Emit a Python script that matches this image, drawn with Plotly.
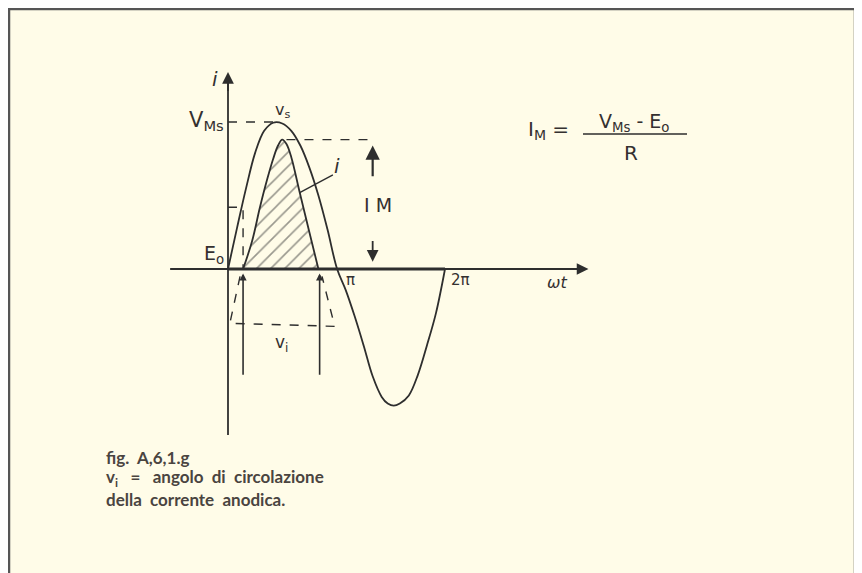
import plotly.graph_objects as go

# ---- values (angle ωt in degrees, amplitude relative to V_Ms) ----
VS_DEG = [0, 15, 30, 45, 60, 75, 90, 105, 120, 135, 150, 165, 181,
          195, 210, 225, 240, 255, 265, 275, 285, 300, 315, 330, 345, 360]
VS_VAL = [0, 0.28, 0.55, 0.79, 0.94, 0.995, 0.99, 0.94, 0.84, 0.69, 0.50, 0.27, 0,
          -0.14, -0.32, -0.52, -0.73, -0.87, -0.915, -0.93, -0.915, -0.86, -0.72, -0.52, -0.30, 0]

I_DEG = [25, 40, 53, 65, 75, 83, 90, 97, 105, 119, 135, 150]
I_VAL = [0, 0.19, 0.42, 0.61, 0.75, 0.84, 0.88, 0.85, 0.76, 0.52, 0.25, 0]

E0_LEVEL = 0.42
E0_DEG = 25
IM_LEVEL = 0.88
VMS_LEVEL = 1.0
VMS_DEG = 83

# angle of conduction (v_i) projection below the axis
VI_DEG = [20, 3, 177, 156]
VI_VAL = [-0.05, -0.37, -0.39, -0.05]
VI_ARROWS = [25, 152]

PI_TICKS = ["π", "2π"]
PI_POS = [204, 385]

BG = "#fffce8"
INK = "#2e2e2e"
TXT = "#343030"
FONT = "DejaVu Sans"
CAPFONT = "Lato"

W, H = 862, 573
OFF = 8  # page margin around the plot div

fig = go.Figure()

# hatched anode current pulse
fig.add_trace(go.Scatter(
    x=I_DEG, y=I_VAL, mode="lines", fill="toself",
    line=dict(color=INK, width=1.8, shape="spline"),
    fillpattern=dict(shape="/", size=10, solidity=0.16, fgcolor="#333", bgcolor=BG),
    hoverinfo="skip"))

# grid voltage v_s
fig.add_trace(go.Scatter(x=VS_DEG, y=VS_VAL, mode="lines",
                         line=dict(color=INK, width=1.8, shape="spline", smoothing=1.0),
                         hoverinfo="skip"))

dash = dict(color=INK, width=1.4, dash="dash")
fig.add_trace(go.Scatter(x=[0, VMS_DEG], y=[VMS_LEVEL, VMS_LEVEL], mode="lines", line=dash))
fig.add_trace(go.Scatter(x=[97, 244], y=[IM_LEVEL, IM_LEVEL], mode="lines", line=dash))
fig.add_trace(go.Scatter(x=[0, E0_DEG, E0_DEG], y=[E0_LEVEL, E0_LEVEL, 0], mode="lines", line=dash))
fig.add_trace(go.Scatter(x=VI_DEG, y=VI_VAL, mode="lines", line=dash))

# axes
fig.add_trace(go.Scatter(x=[-96, 590], y=[0, 0], mode="lines", line=dict(color=INK, width=2)))
fig.add_trace(go.Scatter(x=[0, 360], y=[0, 0], mode="lines", line=dict(color=INK, width=3)))
fig.add_trace(go.Scatter(x=[0, 0], y=[-1.13, 1.30], mode="lines", line=dict(color=INK, width=1.8)))

arrow = dict(showarrow=True, text="", xref="x", yref="y", axref="x", ayref="y",
             arrowhead=2, arrowsize=1.3, arrowwidth=1.8, arrowcolor=INK)
fig.add_annotation(x=0, y=1.34, ax=0, ay=1.2, **arrow)
fig.add_annotation(x=598, y=0, ax=570, ay=0, **arrow)
for d in VI_ARROWS:
    fig.add_annotation(x=d, y=-0.03, ax=d, ay=-0.73,
                       **{**arrow, "arrowsize": 0.9, "arrowwidth": 1.6})
fig.add_annotation(x=240, y=0.84, ax=240, ay=0.62, **{**arrow, "arrowwidth": 2.2})
fig.add_annotation(x=240, y=0.05, ax=240, ay=0.20, **arrow)
# leader for the i label
fig.add_trace(go.Scatter(x=[174, 119], y=[0.64, 0.52], mode="lines", line=dict(color=INK, width=1.4)))


def lab(x, y, text, size=17, **kw):
    fig.add_annotation(x=x, y=y, text=text, showarrow=False, xref="x", yref="y",
                       font=dict(family=FONT, size=size, color=TXT), **kw)


lab(-22, 1.29, "<i>i</i>", 20)
lab(-4, 1.01, "V<sub>Ms</sub>", 21, xanchor="right")
lab(90, 1.08, "v<sub>s</sub>", 16)
lab(-4, 0.10, "E<sub>o</sub>", 19, xanchor="right")
for t, p in zip(PI_TICKS, PI_POS):
    lab(p, -0.075, t, 15)
lab(546, -0.095, "<i>ωt</i>", 16)
lab(180, 0.70, "<i>i</i>", 20)
lab(249, 0.435, "I M", 19)
lab(88, -0.51, "v<sub>i</sub>", 17)


def note(px, py, text, size, family=FONT, color=TXT, xanchor="center"):
    # px, py are screen pixels; shift by the page margin
    fig.add_annotation(x=(px - OFF) / W, y=1 - (py - OFF) / H, xref="paper", yref="paper",
                       text=text, showarrow=False, xanchor=xanchor, yanchor="middle",
                       font=dict(family=family, size=size, color=color))


# formula
note(526, 130, "I<sub>M</sub> =", 20, xanchor="left")
note(634, 123, "V<sub>Ms</sub> - E<sub>o</sub>", 19)
note(631, 153, "R", 20)
fig.add_shape(type="line", xref="paper", yref="paper", x0=(583 - OFF) / W, x1=(687 - OFF) / W,
              y0=1 - (134 - OFF) / H, y1=1 - (134 - OFF) / H, line=dict(color=INK, width=1.6))

# caption
CAPCOL = "#4a4440"
note(104, 457, "<b>fig.&nbsp; A,6,1.g</b>", 17, CAPFONT, CAPCOL, "left")
note(104, 478, "<b>v<sub>i</sub>&nbsp;&nbsp; = &nbsp; angolo &nbsp;di &nbsp;circolazione</b>",
     17, CAPFONT, CAPCOL, "left")
note(104, 499, "<b>della &nbsp;corrente &nbsp;anodica.</b>", 17, CAPFONT, CAPCOL, "left")

# page frame (open at the bottom)
fl, ft, fr = (9 - OFF) / W, 1 - (9 - OFF) / H, (855 - OFF) / W
fig.add_shape(type="path", xref="paper", yref="paper",
              path=f"M {fl},0 L {fl},{ft} L {fr},{ft} L {fr},0",
              line=dict(color="#555", width=2.5))

# axis ranges: origin at screen (228, 269); 0.6028 px per degree, 147 px per unit
X0, Y0, KX, KY = 228 - OFF, 269 - OFF, 0.6028, 147
fig.update_layout(
    width=W, height=H, showlegend=False,
    paper_bgcolor=BG, plot_bgcolor=BG,
    margin=dict(l=0, r=0, t=0, b=0),
    xaxis=dict(range=[-X0 / KX, (W - X0) / KX], visible=False, fixedrange=True),
    yaxis=dict(range=[-(H - Y0) / KY, Y0 / KY], visible=False, fixedrange=True),
)

fig.write_html("out.html")
